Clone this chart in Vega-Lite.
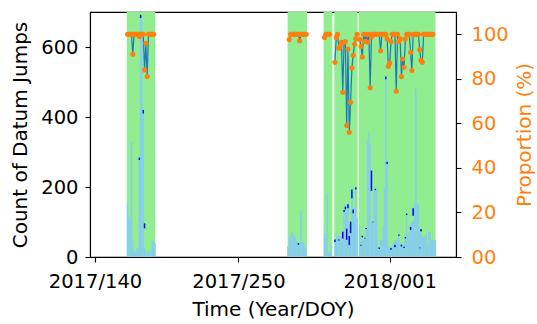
{
  "$schema": "https://vega.github.io/schema/vega-lite/v6.json",
  "width": 366,
  "height": 245,
  "autosize": {"type": "none"},
  "padding": {"left": 90, "top": 12, "right": 81, "bottom": 67},
  "config": {
    "font": "DejaVu Sans",
    "view": {"stroke": "black", "strokeWidth": 1.1},
    "axis": {"labelFont": "DejaVu Sans", "titleFont": "DejaVu Sans", "labelFontSize": 19.5, "titleFontSize": 20, "titleFontWeight": "normal", "labelColor": "black", "titleColor": "black", "domainColor": "black", "tickColor": "black", "domainWidth": 1.1, "tickWidth": 1.1, "tickSize": 5, "grid": false, "zindex": 1}
  },
  "datasets": {
    "spans": [
      {"start": 164.4, "end": 186.2}, {"start": 287.7, "end": 302.6}, {"start": 315.3, "end": 322.0}, {"start": 323.5, "end": 341.4}, {"start": 342.2, "end": 401.1}
    ],
    "bars": [
      {"day":165,"count":151},{"day":166,"count":114},{"day":167,"count":105},{"day":168,"count":329},{"day":169,"count":46},{"day":170,"count":18},{"day":171,"count":15},{"day":172,"count":22},{"day":173,"count":26},{"day":174,"count":277},{"day":175,"count":688},{"day":176,"count":680},{"day":177,"count":410},{"day":178,"count":25},{"day":179,"count":15},{"day":180,"count":14},{"day":181,"count":18},{"day":182,"count":14},{"day":183,"count":20},{"day":184,"count":46},{"day":185,"count":44},{"day":186,"count":40},
      {"day":288,"count":30},{"day":289,"count":55},{"day":290,"count":65},{"day":291,"count":70},{"day":292,"count":65},{"day":293,"count":60},{"day":294,"count":52},{"day":295,"count":42},{"day":296,"count":38},{"day":297,"count":36},{"day":298,"count":135},{"day":299,"count":45},{"day":300,"count":40},{"day":301,"count":33},{"day":302,"count":26},
      {"day":316,"count":69},{"day":317,"count":55},{"day":318,"count":183},{"day":319,"count":11},{"day":320,"count":14},{"day":321,"count":34},
      {"day":324,"count":45},{"day":325,"count":67},{"day":326,"count":62},{"day":327,"count":55},{"day":328,"count":60},{"day":329,"count":70},{"day":330,"count":55},{"day":331,"count":130},{"day":332,"count":136},{"day":333,"count":150},{"day":334,"count":140},{"day":335,"count":35},{"day":336,"count":70},{"day":337,"count":168},{"day":338,"count":126},{"day":339,"count":140},{"day":340,"count":193},{"day":341,"count":110},
      {"day":343,"count":91},{"day":344,"count":40},{"day":345,"count":55},{"day":346,"count":50},{"day":347,"count":50},{"day":348,"count":80},{"day":349,"count":330},{"day":350,"count":355},{"day":351,"count":325},{"day":352,"count":101},{"day":353,"count":100},{"day":354,"count":190},{"day":355,"count":193},{"day":356,"count":190},{"day":357,"count":29},{"day":358,"count":30},{"day":359,"count":48},{"day":360,"count":50},{"day":361,"count":90},{"day":362,"count":200},{"day":363,"count":511},{"day":364,"count":269},{"day":365,"count":29},{"day":366,"count":30},{"day":367,"count":28},{"day":368,"count":27},{"day":369,"count":40},{"day":370,"count":48},{"day":371,"count":48},{"day":372,"count":50},{"day":373,"count":65},{"day":374,"count":40},{"day":375,"count":35},{"day":376,"count":32},{"day":377,"count":29},{"day":378,"count":50},{"day":379,"count":122},{"day":380,"count":68},{"day":381,"count":70},{"day":382,"count":90},{"day":383,"count":100},{"day":384,"count":105},{"day":385,"count":153},{"day":386,"count":482},{"day":387,"count":153},{"day":388,"count":150},{"day":389,"count":70},{"day":390,"count":70},{"day":391,"count":60},{"day":392,"count":56},{"day":393,"count":60},{"day":394,"count":67},{"day":395,"count":34},{"day":396,"count":72},{"day":397,"count":72},{"day":398,"count":50},{"day":399,"count":50},{"day":400,"count":48},{"day":401,"count":48}
    ],
    "blue": [
      {"day":174,"lo":277,"hi":284},{"day":175,"lo":683,"hi":692},{"day":177,"lo":410,"hi":420},{"day":178,"lo":82,"hi":96},
      {"day":296,"lo":35,"hi":40},
      {"day":324,"lo":43,"hi":50},{"day":327,"lo":47,"hi":50},{"day":330,"lo":53,"hi":72},{"day":331,"lo":129,"hi":134},{"day":332,"lo":136,"hi":144},{"day":333,"lo":49,"hi":81},{"day":334,"lo":139,"hi":151},{"day":335,"lo":34,"hi":60},{"day":336,"lo":68,"hi":101},{"day":337,"lo":168,"hi":193},{"day":338,"lo":125,"hi":136},{"day":340,"lo":193,"hi":199},
      {"day":344,"lo":32,"hi":35},{"day":345,"lo":56,"hi":61},{"day":347,"lo":53,"hi":55},{"day":348,"lo":80,"hi":83},{"day":352,"lo":189,"hi":247},{"day":353,"lo":99,"hi":101},{"day":355,"lo":191,"hi":195},{"day":358,"lo":23,"hi":27},{"day":363,"lo":508,"hi":516},{"day":364,"lo":266,"hi":272},{"day":367,"lo":21,"hi":26},{"day":370,"lo":28,"hi":35},{"day":373,"lo":61,"hi":64},{"day":375,"lo":30,"hi":35},{"day":377,"lo":26,"hi":29},{"day":378,"lo":53,"hi":57},{"day":379,"lo":120,"hi":124},{"day":382,"lo":77,"hi":86},{"day":384,"lo":118,"hi":139},{"day":389,"lo":25,"hi":27},{"day":390,"lo":73,"hi":80}
    ],
    "prop": [
      {"day":165,"seg":1,"pct":100},{"day":166,"seg":1,"pct":100},{"day":167,"seg":1,"pct":100},{"day":168,"seg":1,"pct":100},{"day":169,"seg":1,"pct":91},{"day":170,"seg":1,"pct":100},{"day":171,"seg":1,"pct":100},{"day":172,"seg":1,"pct":100},{"day":173,"seg":1,"pct":100},{"day":174,"seg":1,"pct":99},{"day":175,"seg":1,"pct":100},{"day":176,"seg":1,"pct":100},{"day":177,"seg":1,"pct":100},{"day":178,"seg":1,"pct":84},{"day":179,"seg":1,"pct":96},{"day":180,"seg":1,"pct":81},{"day":181,"seg":1,"pct":100},{"day":182,"seg":1,"pct":100},{"day":183,"seg":1,"pct":100},{"day":184,"seg":1,"pct":100},{"day":185,"seg":1,"pct":100},
      {"day":289,"seg":2,"pct":97.6},{"day":290,"seg":2,"pct":100},{"day":291,"seg":2,"pct":100},{"day":292,"seg":2,"pct":100},{"day":293,"seg":2,"pct":100},{"day":294,"seg":2,"pct":100},{"day":295,"seg":2,"pct":100},{"day":296,"seg":2,"pct":100},{"day":297,"seg":2,"pct":97.1},{"day":298,"seg":2,"pct":100},{"day":299,"seg":2,"pct":100},{"day":300,"seg":2,"pct":100},{"day":301,"seg":2,"pct":100},{"day":302,"seg":2,"pct":100},
      {"day":316,"seg":3,"pct":98.6},{"day":317,"seg":3,"pct":100},{"day":318,"seg":3,"pct":100},{"day":319,"seg":3,"pct":100},{"day":320,"seg":3,"pct":100},
      {"day":324,"seg":4,"pct":87.4},{"day":325,"seg":4,"pct":98.6},{"day":326,"seg":4,"pct":100},{"day":327,"seg":4,"pct":93.7},{"day":328,"seg":4,"pct":94.6},{"day":329,"seg":4,"pct":96.4},{"day":330,"seg":4,"pct":74},{"day":331,"seg":4,"pct":96.4},{"day":332,"seg":4,"pct":96.6},{"day":333,"seg":4,"pct":59},{"day":334,"seg":4,"pct":93.4},{"day":335,"seg":4,"pct":56},{"day":336,"seg":4,"pct":69.5},{"day":337,"seg":4,"pct":85},{"day":338,"seg":4,"pct":90.6},{"day":339,"seg":4,"pct":95.5},{"day":340,"seg":4,"pct":98},{"day":341,"seg":4,"pct":100},
      {"day":343,"seg":5,"pct":97.7},{"day":344,"seg":5,"pct":94.6},{"day":345,"seg":5,"pct":89.8},{"day":346,"seg":5,"pct":100},{"day":347,"seg":5,"pct":96.8},{"day":348,"seg":5,"pct":100},{"day":349,"seg":5,"pct":96.5},{"day":350,"seg":5,"pct":100},{"day":351,"seg":5,"pct":76},{"day":352,"seg":5,"pct":98.8},{"day":353,"seg":5,"pct":100},{"day":354,"seg":5,"pct":100},{"day":355,"seg":5,"pct":100},{"day":356,"seg":5,"pct":100},{"day":357,"seg":5,"pct":100},{"day":358,"seg":5,"pct":100},{"day":359,"seg":5,"pct":92.6},{"day":360,"seg":5,"pct":100},{"day":361,"seg":5,"pct":100},{"day":362,"seg":5,"pct":100},{"day":363,"seg":5,"pct":100},{"day":364,"seg":5,"pct":98},{"day":365,"seg":5,"pct":85.6},{"day":366,"seg":5,"pct":87.1},{"day":367,"seg":5,"pct":96.8},{"day":368,"seg":5,"pct":100},{"day":369,"seg":5,"pct":100},{"day":370,"seg":5,"pct":100},{"day":371,"seg":5,"pct":74.4},{"day":372,"seg":5,"pct":100},{"day":373,"seg":5,"pct":96.8},{"day":374,"seg":5,"pct":98},{"day":375,"seg":5,"pct":81},{"day":376,"seg":5,"pct":88.9},{"day":377,"seg":5,"pct":85.2},{"day":378,"seg":5,"pct":97.9},{"day":379,"seg":5,"pct":100},{"day":380,"seg":5,"pct":100},{"day":381,"seg":5,"pct":100},{"day":382,"seg":5,"pct":91.9},{"day":383,"seg":5,"pct":83.7},{"day":384,"seg":5,"pct":100},{"day":385,"seg":5,"pct":100},{"day":386,"seg":5,"pct":100},{"day":387,"seg":5,"pct":100},{"day":388,"seg":5,"pct":100},{"day":389,"seg":5,"pct":93.1},{"day":390,"seg":5,"pct":88.3},{"day":391,"seg":5,"pct":87.4},{"day":392,"seg":5,"pct":100},{"day":393,"seg":5,"pct":100},{"day":394,"seg":5,"pct":100},{"day":395,"seg":5,"pct":100},{"day":396,"seg":5,"pct":100},{"day":397,"seg":5,"pct":100},{"day":398,"seg":5,"pct":100},{"day":399,"seg":5,"pct":100}
    ]
  },
  "layer": [
    {
      "data": {"name": "spans"},
      "mark": {"type": "rect", "color": "#90ee90"},
      "encoding": {
        "x": {"field": "start", "type": "quantitative", "scale": {"domain": [140, 413], "nice": false, "zero": false},
              "axis": {"values": [140, 250, 366], "labelExpr": "datum.value == 140 ? '2017/140' : datum.value == 250 ? '2017/250' : '2018/001'", "labelFlush": false, "labelOverlap": false, "labelBound": false, "labelPadding": 10, "title": "Time (Year/DOY)", "titlePadding": 9}},
        "x2": {"field": "end"}
      }
    },
    {
      "layer": [
        {
          "data": {"name": "bars"},
          "mark": {"type": "bar", "color": "#87ceeb", "width": 1.5},
          "encoding": {
            "x": {"field": "day", "type": "quantitative"},
            "y": {"field": "count", "type": "quantitative", "scale": {"domain": [0, 700], "nice": false},
                  "axis": {"values": [0, 200, 400, 600], "labelPadding": 7, "title": "Count of Datum Jumps", "titlePadding": 10}}
          }
        },
        {
          "data": {"name": "blue"},
          "mark": {"type": "bar", "color": "#0000ff", "width": 1.5},
          "encoding": {
            "x": {"field": "day", "type": "quantitative"},
            "y": {"field": "lo", "type": "quantitative"},
            "y2": {"field": "hi"}
          }
        }
      ]
    },
    {
      "layer": [
        {
          "data": {"name": "prop"},
          "mark": {"type": "line", "color": "#1f77b4", "strokeWidth": 1.2},
          "encoding": {
            "x": {"field": "day", "type": "quantitative"},
            "y": {"field": "pct", "type": "quantitative", "scale": {"domain": [0, 110], "nice": false},
                  "axis": {"orient": "right", "values": [0, 20, 40, 60, 80, 100], "labelExpr": "datum.value == 0 ? '00' : datum.label", "labelColor": "#ff7f0e", "labelPadding": 10, "title": "Proportion (%)", "titleColor": "#ff7f0e", "titleAngle": 270, "titleBaseline": "top", "titlePadding": 6}},
            "detail": {"field": "seg"}
          }
        },
        {
          "data": {"name": "prop"},
          "mark": {"type": "circle", "color": "#ff7f0e", "size": 26, "opacity": 1},
          "encoding": {
            "x": {"field": "day", "type": "quantitative"},
            "y": {"field": "pct", "type": "quantitative"}
          }
        }
      ]
    }
  ],
  "resolve": {"scale": {"y": "independent"}}
}
